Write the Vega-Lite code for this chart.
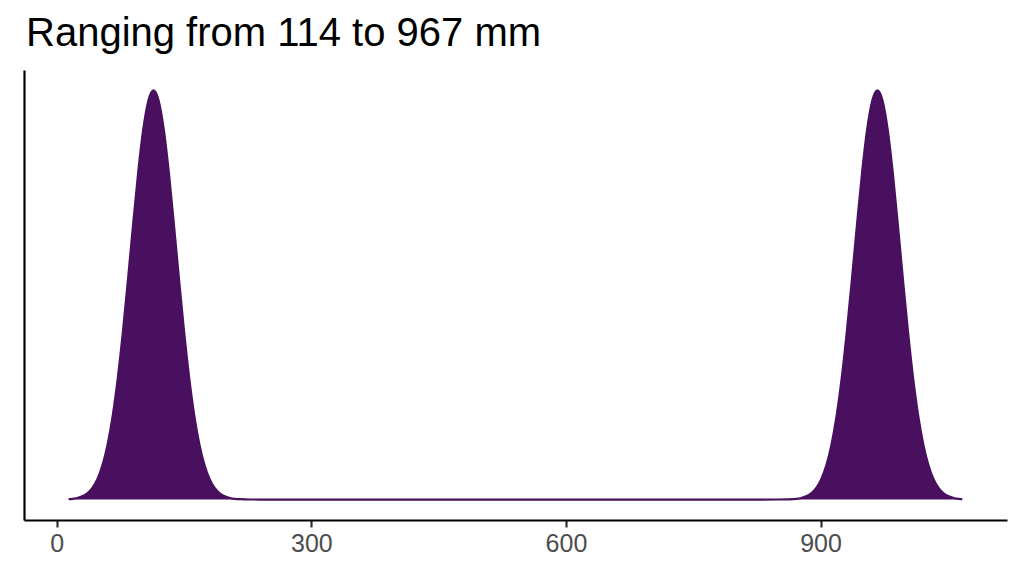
{
  "$schema": "https://vega.github.io/schema/vega-lite/v6.json",
  "autosize": "none",
  "width": 983,
  "height": 450,
  "padding": {"left": 24, "top": 70, "right": 17, "bottom": 56},
  "background": "white",
  "title": {
    "text": "Ranging from 114 to 967 mm",
    "anchor": "start",
    "font": "Liberation Sans",
    "fontSize": 40,
    "fontWeight": "normal",
    "color": "black",
    "offset": 16,
    "dx": 2
  },
  "config": {
    "view": {"stroke": null},
    "axis": {"grid": false}
  },
  "data": {
    "values": [
      {"mm": 14, "density": 0.001},
      {"mm": 18, "density": 0.0018},
      {"mm": 24, "density": 0.0039},
      {"mm": 30, "density": 0.0079},
      {"mm": 36, "density": 0.0154},
      {"mm": 42, "density": 0.0286},
      {"mm": 48, "density": 0.0504},
      {"mm": 54, "density": 0.0847},
      {"mm": 60, "density": 0.1353},
      {"mm": 66, "density": 0.2059},
      {"mm": 72, "density": 0.2982},
      {"mm": 78, "density": 0.4111},
      {"mm": 84, "density": 0.5394},
      {"mm": 90, "density": 0.6736},
      {"mm": 96, "density": 0.8007},
      {"mm": 102, "density": 0.906},
      {"mm": 108, "density": 0.9756},
      {"mm": 114, "density": 1},
      {"mm": 120, "density": 0.9756},
      {"mm": 126, "density": 0.906},
      {"mm": 132, "density": 0.8007},
      {"mm": 138, "density": 0.6736},
      {"mm": 144, "density": 0.5394},
      {"mm": 150, "density": 0.4111},
      {"mm": 156, "density": 0.2982},
      {"mm": 162, "density": 0.2059},
      {"mm": 168, "density": 0.1353},
      {"mm": 174, "density": 0.0847},
      {"mm": 180, "density": 0.0504},
      {"mm": 186, "density": 0.0286},
      {"mm": 192, "density": 0.0154},
      {"mm": 198, "density": 0.0079},
      {"mm": 204, "density": 0.0039},
      {"mm": 210, "density": 0.0018},
      {"mm": 216, "density": 0.0008},
      {"mm": 228, "density": 0.0001},
      {"mm": 250, "density": 0},
      {"mm": 400, "density": 0},
      {"mm": 600, "density": 0},
      {"mm": 800, "density": 0},
      {"mm": 850, "density": 0.0001},
      {"mm": 861, "density": 0.0005},
      {"mm": 867, "density": 0.001},
      {"mm": 871, "density": 0.0018},
      {"mm": 877, "density": 0.0039},
      {"mm": 883, "density": 0.0079},
      {"mm": 889, "density": 0.0154},
      {"mm": 895, "density": 0.0286},
      {"mm": 901, "density": 0.0504},
      {"mm": 907, "density": 0.0847},
      {"mm": 913, "density": 0.1353},
      {"mm": 919, "density": 0.2059},
      {"mm": 925, "density": 0.2982},
      {"mm": 931, "density": 0.4111},
      {"mm": 937, "density": 0.5394},
      {"mm": 943, "density": 0.6736},
      {"mm": 949, "density": 0.8007},
      {"mm": 955, "density": 0.906},
      {"mm": 961, "density": 0.9756},
      {"mm": 967, "density": 1},
      {"mm": 973, "density": 0.9756},
      {"mm": 979, "density": 0.906},
      {"mm": 985, "density": 0.8007},
      {"mm": 991, "density": 0.6736},
      {"mm": 997, "density": 0.5394},
      {"mm": 1003, "density": 0.4111},
      {"mm": 1009, "density": 0.2982},
      {"mm": 1015, "density": 0.2059},
      {"mm": 1021, "density": 0.1353},
      {"mm": 1027, "density": 0.0847},
      {"mm": 1033, "density": 0.0504},
      {"mm": 1039, "density": 0.0286},
      {"mm": 1045, "density": 0.0154},
      {"mm": 1051, "density": 0.0079},
      {"mm": 1057, "density": 0.0039},
      {"mm": 1063, "density": 0.0018},
      {"mm": 1067, "density": 0.001}
    ]
  },
  "mark": {
    "type": "area",
    "interpolate": "monotone",
    "color": "#48105E",
    "opacity": 1,
    "line": {"color": "#48105E", "strokeWidth": 2.2}
  },
  "encoding": {
    "x": {
      "field": "mm",
      "type": "quantitative",
      "title": null,
      "scale": {"domain": [-38.6, 1119.7], "nice": false, "zero": false},
      "axis": {
        "values": [0, 300, 600, 900],
        "domainColor": "black",
        "domainWidth": 2.2,
        "tickColor": "#333333",
        "tickWidth": 2.2,
        "tickSize": 7,
        "labelFont": "Liberation Sans",
        "labelFontSize": 25,
        "labelColor": "#4D4D4D",
        "labelPadding": 4
      }
    },
    "y": {
      "field": "density",
      "type": "quantitative",
      "title": null,
      "scale": {"domain": [-0.05, 1.05], "nice": false, "zero": false},
      "axis": {
        "ticks": false,
        "labels": false,
        "domainColor": "black",
        "domainWidth": 2.2
      }
    },
    "y2": {"datum": 0}
  }
}
